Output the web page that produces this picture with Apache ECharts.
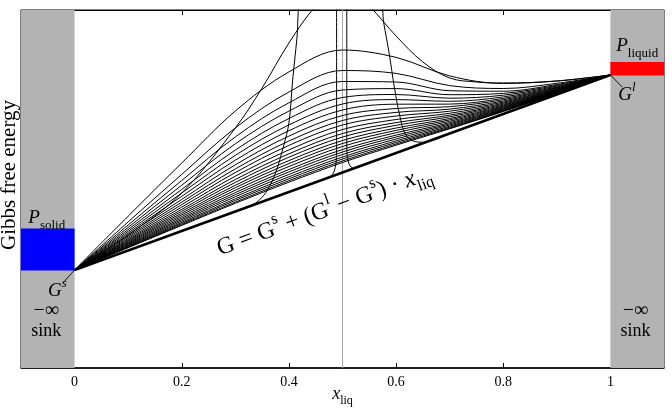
<!DOCTYPE html>
<html>
<head>
<meta charset="utf-8">
<script src="https://cdn.jsdelivr.net/npm/echarts@6/dist/echarts.min.js"></script>
<style>
	html, body { margin: 0; padding: 0; background: #fff; }
	#main { width: 672px; height: 408px; }
</style>
</head>
<body>
<div id="main"></div>
<script>
// x grid of the smooth free-energy family (x_liq)
var xSamples = [0, 0.1, 0.2, 0.3, 0.4, 0.5, 0.6, 0.7, 0.8, 0.9, 1];

// family of G(x) curves, top to bottom (arbitrary energy units)
var familyCurves = [
	[98, 151.8, 205.0, 257.0, 296.1, 318.0, 310.6, 292.1, 284.6, 287.0, 293],
	[98, 146.1, 193.6, 240.1, 276.0, 297.5, 294.6, 282.4, 279.5, 284.7, 293],
	[98, 143.0, 187.5, 231.1, 265.2, 286.5, 286.0, 277.3, 276.8, 283.5, 293],
	[98, 140.6, 182.8, 224.2, 256.9, 278.0, 279.4, 273.3, 274.6, 282.6, 293],
	[98, 138.5, 178.6, 218.0, 249.5, 270.5, 273.5, 269.8, 272.8, 281.8, 293],
	[98, 136.7, 175.0, 212.7, 243.1, 264.0, 268.4, 266.7, 271.1, 281.0, 293],
	[98, 135.0, 171.7, 207.8, 237.3, 258.0, 263.8, 263.9, 269.6, 280.4, 293],
	[98, 133.5, 168.6, 203.2, 231.9, 252.5, 259.5, 261.3, 268.3, 279.8, 293],
	[98, 132.1, 165.9, 199.1, 227.0, 247.5, 255.6, 258.9, 267.0, 279.2, 293],
	[98, 130.8, 163.4, 195.5, 222.6, 243.0, 252.0, 256.8, 265.9, 278.7, 293],
	[98, 129.5, 160.9, 191.8, 218.1, 238.5, 248.5, 254.7, 264.8, 278.2, 293],
	[98, 128.4, 158.6, 188.5, 214.2, 234.5, 245.4, 252.8, 263.8, 277.8, 293],
	[98, 127.4, 156.7, 185.6, 210.8, 231.0, 242.7, 251.2, 262.9, 277.4, 293],
	[98, 126.5, 154.8, 182.7, 207.4, 227.5, 240.0, 249.5, 262.0, 277.0, 293],
	[98, 125.6, 153.1, 180.3, 204.4, 224.5, 237.6, 248.1, 261.3, 276.7, 293],
	[98, 124.8, 151.4, 177.8, 201.5, 221.5, 235.3, 246.7, 260.5, 276.4, 293],
	[98, 123.9, 149.8, 175.4, 198.5, 218.5, 232.9, 245.3, 259.8, 276.0, 293],
	[98, 123.2, 148.4, 173.3, 196.1, 216.0, 231.0, 244.1, 259.1, 275.8, 293],
	[98, 122.5, 147.0, 171.3, 193.6, 213.5, 229.0, 243.0, 258.5, 275.5, 293],
	[98, 121.8, 145.6, 169.2, 191.2, 211.0, 227.1, 241.8, 257.9, 275.2, 293],
	[98, 121.3, 144.5, 167.6, 189.2, 209.0, 225.5, 240.8, 257.4, 275.0, 293],
	[98, 120.7, 143.4, 165.9, 187.3, 207.0, 224.0, 239.9, 256.9, 274.8, 293],
	[98, 120.3, 142.6, 164.7, 185.8, 205.5, 222.8, 239.2, 256.5, 274.6, 293]
];

// tall curves that leave the frame
var tallCurve = [[0, 98], [0.1, 133], [0.2, 175], [0.3, 240], [0.35, 280], [0.4, 325], [0.45, 362], [0.5, 385],
	[0.55, 362], [0.6, 332], [0.65, 306], [0.7, 290], [0.75, 286], [0.8, 285], [0.9, 287], [1, 293]];
var steepCurve = [[0.3, 156.5], [0.33, 162.4], [0.345, 168], [0.36, 178], [0.375, 195], [0.39, 222], [0.4, 245],
	[0.407, 288], [0.415, 330], [0.422, 370], [0.5, 420], [0.57, 370], [0.577, 345], [0.587, 315], [0.597, 280],
	[0.607, 252], [0.617, 234], [0.632, 227], [0.65, 225.8], [0.7, 234.5]];
var spikeCurve = [[0.45, 185.8], [0.477, 191], [0.484, 196], [0.488, 205], [0.489, 220], [0.489, 300], [0.489, 370],
	[0.5, 430], [0.508, 370], [0.508, 300], [0.508, 222], [0.509, 211], [0.513, 203], [0.52, 199.6], [0.55, 205.3]];

// common tangent G = Gs + (Gl - Gs) x
var gSolid = 98;
var gLiquid = 293;

// reservoir boxes (energy ranges)
var solidBox = [97.5, 139.5];
var liquidBox = [292.5, 306];

// axes
var xMin = -0.1, xMax = 1.1, yMin = 0, yMax = 358;
var xLabelValues = [0, 0.2, 0.4, 0.6, 0.8, 1];
var xTickValues = [0.2, 0.4, 0.6, 0.8];

// annotation anchors (data coords)
var solidLabelAt = [-0.052, 150];
var liquidLabelAt = [1.05, 322];
var gsLabelAt = [-0.032, 77];
var gsLeader = [[0, gSolid], [-0.022, 85]];
var glLabelAt = [1.031, 273];
var glLeader = [[1, gLiquid], [1.022, 281]];
var sinkLeftAt = [-0.053, 47];
var sinkRightAt = [1.047, 47];
var formulaAt = [0.466, 157];
var yNameAt = 193;

var serif = "'Liberation Serif', 'DejaVu Serif', serif";

var myChart = echarts.init(document.getElementById('main'));

function thinLine(data, width, color) {
	return {
		type: 'line',
		data: data,
		showSymbol: false,
		symbol: 'none',
		smooth: 0.35,
		silent: true,
		lineStyle: { color: color || '#000', width: width || 1 },
		z: 3
	};
}

var series = [];

// half line + panels
var midLine = thinLine([[0.5, yMin], [0.5, yMax]], 1, '#a8a8a8');
midLine.smooth = false;
midLine.z = 2;
midLine.markArea = {
	silent: true,
	data: [
		[{ xAxis: xMin, yAxis: yMin, itemStyle: { color: '#b3b3b3' } }, { xAxis: 0, yAxis: yMax }],
		[{ xAxis: 1, yAxis: yMin, itemStyle: { color: '#b3b3b3' } }, { xAxis: xMax, yAxis: yMax }],
		[{ xAxis: xMin, yAxis: solidBox[0], itemStyle: { color: '#0000ff' } }, { xAxis: 0, yAxis: solidBox[1] }],
		[{ xAxis: 1, yAxis: liquidBox[0], itemStyle: { color: '#ff0000' } }, { xAxis: xMax, yAxis: liquidBox[1] }]
	]
};
series.push(midLine);

familyCurves.forEach(function (row) {
	series.push(thinLine(xSamples.map(function (x, i) { return [x, row[i]]; })));
});
series.push(thinLine(tallCurve));
series.push(thinLine(steepCurve));
var spike = thinLine(spikeCurve);
spike.smooth = 0.2;
series.push(spike);

var tangent = thinLine([[0, gSolid], [1, gLiquid]], 2.4);
tangent.smooth = false;
tangent.z = 4;
series.push(tangent);

[gsLeader, glLeader].forEach(function (d) {
	var s = thinLine(d, 0.9);
	s.smooth = false;
	s.z = 5;
	series.push(s);
});

myChart.setOption({
	animation: false,
	backgroundColor: '#fff',
	grid: {
		left: 21, right: 8, top: 10, bottom: 40,
		show: true, borderColor: '#000', borderWidth: 1, backgroundColor: 'transparent'
	},
	xAxis: [
		{
			type: 'value', min: xMin, max: xMax, position: 'bottom',
			axisLine: { show: true, onZero: false, lineStyle: { color: '#000', width: 1.5 } },
			axisTick: { show: true, inside: true, length: 5, customValues: xTickValues, lineStyle: { color: '#000' } },
			axisLabel: {
				show: true, customValues: xLabelValues, margin: 7,
				color: '#000', fontFamily: serif, fontSize: 14,
				formatter: function (v) { return String(v); }
			},
			splitLine: { show: false }
		},
		{
			type: 'value', min: xMin, max: xMax, position: 'top',
			axisLine: { show: true, onZero: false, lineStyle: { color: '#000', width: 1 } },
			axisTick: { show: true, inside: true, length: 5, customValues: xTickValues, lineStyle: { color: '#000' } },
			axisLabel: { show: false },
			splitLine: { show: false }
		}
	],
	yAxis: {
		type: 'value', min: yMin, max: yMax,
		axisLine: { show: false }, axisTick: { show: false },
		axisLabel: { show: false }, splitLine: { show: false }
	},
	series: series
});

// text annotations, placed from data coordinates
function px(p) {
	return myChart.convertToPixel({ xAxisIndex: 0, yAxisIndex: 0 }, p);
}

function label(at, text, rich, extra) {
	var p = px(at);
	var el = {
		type: 'text', x: p[0], y: p[1], z: 100, silent: true,
		style: {
			text: text, rich: rich,
			fontFamily: serif, fontSize: 16, fill: '#000',
			align: 'center', verticalAlign: 'middle',
			textAlign: 'center', textVerticalAlign: 'middle'
		}
	};
	if (extra) {
		for (var k in extra) el[k] = extra[k];
	}
	return el;
}

function mathRich(size, color) {
	return {
		i: { fontFamily: serif, fontStyle: 'italic', fontSize: size, color: color, verticalAlign: 'middle', lineHeight: Math.round(size * 1.45) },
		r: { fontFamily: serif, fontSize: size, color: color, verticalAlign: 'middle', lineHeight: Math.round(size * 1.45) },
		sub: { fontFamily: serif, fontSize: Math.round(size * 0.68), color: color, verticalAlign: 'bottom', lineHeight: Math.round(size * 0.7) },
		isup: { fontFamily: serif, fontStyle: 'italic', fontSize: Math.round(size * 0.68), color: color, verticalAlign: 'top', lineHeight: Math.round(size * 0.7) },
		sup: { fontFamily: serif, fontSize: Math.round(size * 0.68), color: color, verticalAlign: 'top', lineHeight: Math.round(size * 0.7) }
	};
}

var sinkRich = {
	r: { fontFamily: serif, fontSize: 20, lineHeight: 20 },
	s: { fontFamily: serif, fontSize: 18, lineHeight: 20 }
};

var p0 = px([0, gSolid]);
var p1 = px([1, gLiquid]);
var tangentAngle = Math.atan2(p0[1] - p1[1], p1[0] - p0[0]);

var xl = px([0.5, yMin]);

myChart.setOption({
	graphic: [
		label(solidLabelAt, '{i|P}{sub|solid}', mathRich(19, '#0000ff')),
		label(liquidLabelAt, '{i|P}{sub|liquid}', mathRich(19, '#ff0000')),
		label(gsLabelAt, '{i|G}{isup|s}', mathRich(19, '#000')),
		label(glLabelAt, '{i|G}{isup|l}', mathRich(19, '#000')),
		label(sinkLeftAt, '{r|−∞}\n{s|sink}', sinkRich),
		label(sinkRightAt, '{r|−∞}\n{s|sink}', sinkRich),
		label(formulaAt, '{r|G = G}{sup|s}{r| + (G}{sup|l}{r| − G}{sup|s}{r|) · }{i|x}{sub|liq}', mathRich(24, '#000'),
			{ rotation: tangentAngle }),
		{
			type: 'text', x: xl[0], y: xl[1] + 26, z: 100, silent: true,
			style: {
				text: '{i|x}{sub|liq}', rich: mathRich(18, '#000'),
				align: 'center', verticalAlign: 'middle', textAlign: 'center', textVerticalAlign: 'middle'
			}
		},
		{
			type: 'text', x: 9, y: px([0, yNameAt])[1], z: 100, silent: true, rotation: Math.PI / 2,
			style: {
				text: 'Gibbs free energy', fontFamily: serif, fontSize: 21, fill: '#000',
				align: 'center', verticalAlign: 'middle', textAlign: 'center', textVerticalAlign: 'middle'
			}
		}
	]
});
</script>
</body>
</html>
